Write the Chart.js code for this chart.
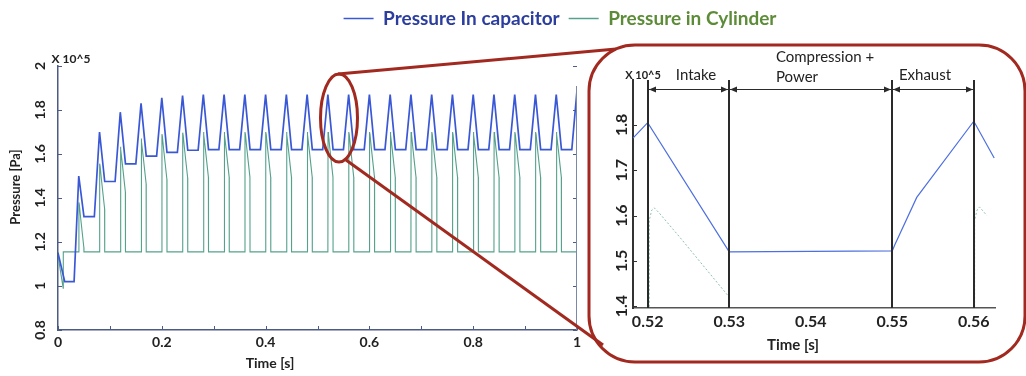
<!DOCTYPE html>
<html>
<head>
<meta charset="utf-8">
<script src="https://cdn.jsdelivr.net/npm/chart.js@4.4.1/dist/chart.umd.min.js"></script>
<style>
  html, body { margin: 0; padding: 0; background: #fff; }
  body { width: 1026px; height: 376px; position: relative; overflow: hidden; }
  #mainChart { position: absolute; left: 0; top: 0; }
  #zoomChart { position: absolute; left: 596px; top: 47px; }
  #callout { position: absolute; left: 0; top: 0; pointer-events: none; }
</style>
</head>
<body>
<canvas id="mainChart" width="1120" height="376"></canvas>
<canvas id="zoomChart" width="424" height="313"></canvas>
<svg id="callout" width="1026" height="376">
  <g fill="none" stroke="#a1291f" stroke-width="3">
    <ellipse cx="339" cy="118" rx="18.5" ry="44"/>
    <path d="M338 74 L616 49"/>
    <path d="M346 160 L603 345"/>
    <rect x="589" y="45" width="436" height="317" rx="46" ry="46"/>
  </g>
</svg>
<script>
// ---- main chart data (pressure x 10^5 Pa, time in s) ----
const timeTicks = [0, 0.2, 0.4, 0.6, 0.8, 1];
const timeMinorTicks = [0.1, 0.3, 0.5, 0.7, 0.9];
const pressureTicks = [0.8, 1, 1.2, 1.4, 1.6, 1.8, 2];

// start-up transient before the first cycle
const capacitorStartTime = [0, 0.013, 0.031];
const capacitorStartP = [1.15, 1.02, 1.02];
const cylinderStartTime = [0, 0.0005, 0.01, 0.0102];
const cylinderStartP = [1.155, 1.13, 0.99, 1.155];

// one peak every cycle
const cycleTime = [0.04, 0.08, 0.12, 0.16, 0.20, 0.24, 0.28, 0.32, 0.36, 0.40, 0.44, 0.48, 0.52,
                   0.56, 0.60, 0.64, 0.68, 0.72, 0.76, 0.80, 0.84, 0.88, 0.92, 0.96, 1.00];
const capacitorPeak = [1.50, 1.70, 1.79, 1.83, 1.855, 1.865, 1.87, 1.87, 1.87, 1.87, 1.87, 1.87, 1.87,
                       1.87, 1.87, 1.87, 1.87, 1.87, 1.87, 1.87, 1.87, 1.87, 1.87, 1.87, 1.89];
const capacitorFloor = [1.315, 1.475, 1.555, 1.59, 1.607, 1.617, 1.62, 1.62, 1.62, 1.62, 1.62, 1.62,
                        1.62, 1.62, 1.62, 1.62, 1.62, 1.62, 1.62, 1.62, 1.62, 1.62, 1.62, 1.62];
const cylinderPeak = [1.38, 1.556, 1.633, 1.67, 1.69, 1.697, 1.70, 1.70, 1.70, 1.70, 1.70, 1.70, 1.70,
                      1.70, 1.70, 1.70, 1.70, 1.70, 1.70, 1.70, 1.70, 1.70, 1.70, 1.70, 1.70];
const cylinderBase = 1.155;

// phase lengths (intake 0.52-0.53, compression+power 0.53-0.55)
const intakeEnd = 0.01;
const compressionEnd = 0.03;
// shape of one cylinder pulse
const pulseTime = [0.0003, 0.0012, 0.0037, 0.0098];
const pulseFall = [0, 0.012, 0.072, 0.205];
const pulseEnd = 0.0100;

// ---- zoomed view data ----
const zoomTimeTicks = [0.52, 0.53, 0.54, 0.55, 0.56];
const zoomPressureTicks = [1.4, 1.5, 1.6, 1.7, 1.8];
const phaseBounds = [0.52, 0.53, 0.55, 0.56];
const zoomCapTime = [0.5182, 0.52, 0.53, 0.55, 0.5503, 0.553, 0.56, 0.5625];
const zoomCapP = [1.771, 1.805, 1.52, 1.522, 1.535, 1.64, 1.808, 1.727];
const zoomCylTimeA = [0.5202, 0.5202, 0.5205, 0.5208, 0.5214, 0.5239, 0.5300];
const zoomCylPA = [1.39, 1.59, 1.612, 1.617, 1.606, 1.553, 1.42];
const zoomCylTimeB = [0.5601, 0.5601, 0.5604, 0.5607, 0.5616];
const zoomCylPB = [1.39, 1.59, 1.612, 1.619, 1.60];

const fontFamily = 'Lato, "Open Sans", sans-serif';
const axisColor = '#4c5a86';
const labelColor = '#222';
const legendTextColors = ['#2b3d9e', '#5d8c38'];

function toPoints(xs, ys) {
  return xs.map((x, i) => ({ x: x, y: ys[i] }));
}

function buildCapacitor() {
  const pts = toPoints(capacitorStartTime, capacitorStartP);
  cycleTime.forEach((t, k) => {
    pts.push({ x: t, y: capacitorPeak[k] });
    if (k < capacitorFloor.length) {
      pts.push({ x: t + intakeEnd, y: capacitorFloor[k] });
      pts.push({ x: t + compressionEnd, y: capacitorFloor[k] });
    }
  });
  return pts;
}

function buildCylinder() {
  const pts = toPoints(cylinderStartTime, cylinderStartP);
  cycleTime.forEach((t, k) => {
    pts.push({ x: t, y: cylinderBase });
    pulseTime.forEach((dt, j) => pts.push({ x: t + dt, y: cylinderPeak[k] - pulseFall[j] }));
    pts.push({ x: t + pulseEnd, y: cylinderBase });
  });
  return pts;
}

function line(ctx, x0, y0, x1, y1) {
  ctx.beginPath();
  ctx.moveTo(x0, y0);
  ctx.lineTo(x1, y1);
  ctx.stroke();
}

function text(ctx, str, x, y, font, rotate) {
  ctx.save();
  ctx.translate(x, y);
  if (rotate) ctx.rotate(-Math.PI / 2);
  ctx.font = font;
  ctx.textAlign = 'center';
  ctx.textBaseline = 'middle';
  ctx.fillText(str, 0, 0);
  ctx.restore();
}

// room between the legend and the plot
const legendGap = {
  id: 'legendGap',
  afterInit(chart) {
    const fit = chart.legend.fit;
    chart.legend.fit = function() {
      fit.call(this);
      this.height += 28;
    };
  }
};

// inner ticks, right frame and free texts of the main chart
const mainDecor = {
  id: 'mainDecor',
  afterDraw(chart) {
    const { ctx, chartArea: a, scales: { x, y } } = chart;
    ctx.save();
    ctx.strokeStyle = axisColor;
    ctx.lineWidth = 1;
    timeTicks.concat(timeMinorTicks).forEach(v => {
      const px = Math.round(x.getPixelForValue(v)) + 0.5;
      line(ctx, px, a.bottom, px, a.bottom - 4);
    });
    pressureTicks.forEach(v => {
      const py = Math.round(y.getPixelForValue(v)) + 0.5;
      line(ctx, a.left, py, a.left + 4, py);
      line(ctx, a.right, py, a.right - 4, py);
    });
    ctx.strokeStyle = '#7c88aa';
    line(ctx, a.right - 0.5, a.top + 20, a.right - 0.5, a.bottom);
    ctx.fillStyle = labelColor;
    text(ctx, 'X 10^5', a.left + 13, a.top - 7, 'bold 12px ' + fontFamily);
    text(ctx, 'Pressure [Pa]', 16, 187, 'bold 13px ' + fontFamily, true);
    text(ctx, 'Time [s]', 270, 363, 'bold 14px ' + fontFamily);
    ctx.restore();
  }
};

// phase markers and texts of the zoomed view
const zoomDecor = {
  id: 'zoomDecor',
  afterDraw(chart) {
    const { ctx, chartArea: a, scales: { x, y } } = chart;
    ctx.save();
    ctx.strokeStyle = '#333';
    ctx.lineWidth = 1;
    zoomPressureTicks.forEach(v => {
      const py = Math.round(y.getPixelForValue(v)) + 0.5;
      line(ctx, a.left, py, a.left + 4, py);
    });
    ctx.strokeStyle = '#2a2a2a';
    ctx.lineWidth = 2;
    phaseBounds.forEach(t => {
      const px = Math.round(x.getPixelForValue(t));
      line(ctx, px, a.top, px, a.bottom);
    });
    const ay = a.top + 9.5;
    ctx.lineWidth = 1.2;
    ctx.fillStyle = '#2a2a2a';
    for (let i = 0; i < phaseBounds.length - 1; i++) {
      const x0 = Math.round(x.getPixelForValue(phaseBounds[i])) + 1;
      const x1 = Math.round(x.getPixelForValue(phaseBounds[i + 1])) - 1;
      line(ctx, x0, ay, x1, ay);
      ctx.beginPath();
      ctx.moveTo(x0, ay); ctx.lineTo(x0 + 7, ay - 3); ctx.lineTo(x0 + 7, ay + 3); ctx.closePath();
      ctx.moveTo(x1, ay); ctx.lineTo(x1 - 7, ay - 3); ctx.lineTo(x1 - 7, ay + 3); ctx.closePath();
      ctx.fill();
    }
    ctx.fillStyle = labelColor;
    const f = '15px ' + fontFamily;
    text(ctx, 'X 10^5', 47, 28, 'bold 11px ' + fontFamily);
    text(ctx, 'Intake', 100, 28, f);
    text(ctx, 'Compression +', 229, 10, f);
    text(ctx, 'Power', 201, 30, f);
    text(ctx, 'Exhaust', 329, 28, f);
    text(ctx, 'Time [s]', 197, 298, 'bold 15px ' + fontFamily);
    ctx.restore();
  }
};

new Chart(document.getElementById('mainChart'), {
  type: 'line',
  data: {
    datasets: [
      {
        label: 'Pressure In capacitor',
        data: buildCapacitor(),
        borderColor: '#3a58d6',
        backgroundColor: '#3a58d6',
        borderWidth: 1.7
      },
      {
        label: 'Pressure in Cylinder',
        data: buildCylinder(),
        borderColor: '#55a18c',
        backgroundColor: '#55a18c',
        borderWidth: 1.1
      }
    ]
  },
  options: {
    responsive: false,
    animation: false,
    layout: { padding: 0 },
    elements: { point: { radius: 0 }, line: { tension: 0 } },
    plugins: {
      tooltip: { enabled: false },
      legend: {
        position: 'top',
        labels: {
          usePointStyle: true,
          pointStyle: 'line',
          pointStyleWidth: 30,
          padding: 9,
          font: { family: fontFamily, size: 19, weight: 'bold' },
          generateLabels(chart) {
            const items = Chart.defaults.plugins.legend.labels.generateLabels(chart);
            items.forEach((it, i) => { it.fontColor = legendTextColors[i]; it.lineWidth = 1.5; });
            return items;
          }
        }
      }
    },
    scales: {
      x: {
        type: 'linear',
        min: 0,
        max: 1,
        afterBuildTicks: s => { s.ticks = timeTicks.map(v => ({ value: v })); },
        afterFit: s => { s.height = 46; },
        ticks: {
          autoSkip: false,
          maxRotation: 0,
          padding: 4,
          color: labelColor,
          font: { family: fontFamily, size: 14, weight: 'bold' },
          callback: v => String(v)
        },
        grid: { drawOnChartArea: false, drawTicks: false },
        border: { color: axisColor, width: 1.5 }
      },
      y: {
        min: 0.8,
        max: 2,
        afterBuildTicks: s => { s.ticks = pressureTicks.map(v => ({ value: v })); },
        afterFit: s => { s.width = 58; },
        ticks: {
          minRotation: 90,
          maxRotation: 90,
          crossAlign: 'center',
          padding: 8,
          color: labelColor,
          font: { family: fontFamily, size: 14, weight: 'bold' },
          callback: v => String(v)
        },
        grid: { drawOnChartArea: false, drawTicks: false },
        border: { color: axisColor, width: 1.5 }
      },
      // empty right-hand axis that keeps the space where the zoomed view sits
      yRight: {
        position: 'right',
        min: 0.8,
        max: 2,
        afterFit: s => { s.width = 543; },
        ticks: { display: false },
        grid: { display: false },
        border: { display: false }
      }
    }
  },
  plugins: [legendGap, mainDecor]
});

new Chart(document.getElementById('zoomChart'), {
  type: 'line',
  data: {
    datasets: [
      { data: toPoints(zoomCapTime, zoomCapP), borderColor: '#4d6fe0', borderWidth: 1.2 },
      { data: toPoints(zoomCylTimeA, zoomCylPA), borderColor: '#8cc0b2', borderWidth: 1, borderDash: [2, 2] },
      { data: toPoints(zoomCylTimeB, zoomCylPB), borderColor: '#8cc0b2', borderWidth: 1, borderDash: [2, 2] }
    ]
  },
  options: {
    responsive: false,
    animation: false,
    layout: { padding: { left: 0, right: 25, top: 33, bottom: 0 } },
    elements: { point: { radius: 0 }, line: { tension: 0 } },
    plugins: { legend: { display: false }, tooltip: { enabled: false } },
    scales: {
      x: {
        type: 'linear',
        min: 0.5182,
        max: 0.5626,
        afterBuildTicks: s => { s.ticks = zoomTimeTicks.map(v => ({ value: v })); },
        afterFit: s => { s.height = 52; },
        ticks: {
          autoSkip: false,
          maxRotation: 0,
          padding: 4,
          color: labelColor,
          font: { family: fontFamily, size: 16, weight: 'bold' },
          callback: v => v.toFixed(2)
        },
        grid: { drawOnChartArea: false, drawTicks: false },
        border: { color: '#555', width: 1.5 }
      },
      y: {
        min: 1.396,
        max: 1.899,
        afterBuildTicks: s => { s.ticks = zoomPressureTicks.map(v => ({ value: v })); },
        afterFit: s => { s.width = 37; },
        ticks: {
          minRotation: 90,
          maxRotation: 90,
          crossAlign: 'center',
          padding: 0,
          color: labelColor,
          font: { family: fontFamily, size: 16, weight: 'bold' },
          callback: v => v.toFixed(1)
        },
        grid: { drawOnChartArea: false, drawTicks: false },
        border: { color: '#333', width: 2 }
      }
    }
  },
  plugins: [zoomDecor]
});
</script>
</body>
</html>
